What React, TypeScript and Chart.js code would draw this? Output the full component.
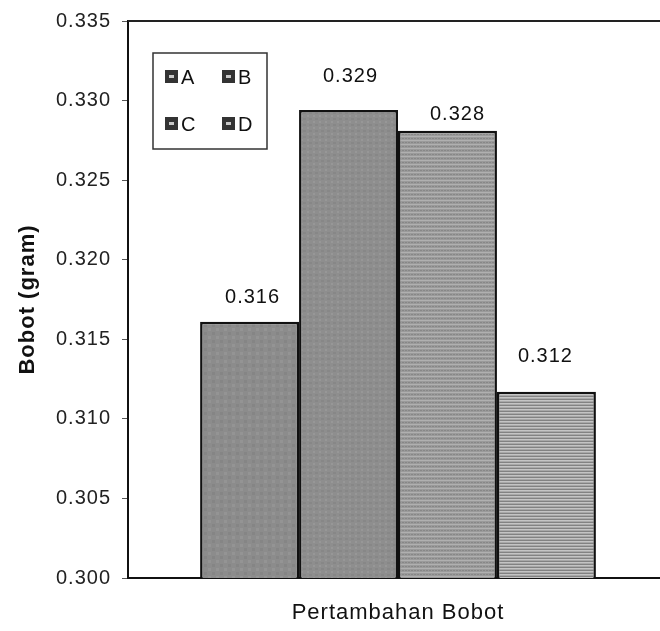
import { useEffect, useRef } from "react";
import { Chart, registerables, Plugin } from "chart.js";

Chart.register(...registerables);

/* ---------------- Data ---------------- */

const categories = ["Pertambahan Bobot"];
const seriesNames = ["A", "B", "C", "D"];
const seriesValues = [0.3161, 0.3294, 0.3281, 0.3117];
const yTicks = [0.3, 0.305, 0.31, 0.315, 0.32, 0.325, 0.33, 0.335];

// label nudges (px) so value labels sit like the original
const labelShift = [
  [3, -24],
  [2, -34],
  [10, -16],
  [-1, -35],
];

const FONT = "'Liberation Sans', Arial, sans-serif";

/* ---------------- Fill patterns ---------------- */

function makePattern(w: number, h: number, draw: (c: CanvasRenderingContext2D) => void) {
  const cv = document.createElement("canvas");
  cv.width = w;
  cv.height = h;
  const c = cv.getContext("2d")!;
  draw(c);
  return c.createPattern(cv, "repeat") as CanvasPattern;
}

function buildFills() {
  const a = makePattern(8, 8, (c) => {
    c.fillStyle = "#8c8c8c";
    c.fillRect(0, 0, 8, 8);
    c.fillStyle = "#949494";
    c.fillRect(0, 0, 3, 3);
    c.fillStyle = "#858585";
    c.fillRect(4, 4, 3, 3);
  });
  const b = makePattern(6, 6, (c) => {
    c.fillStyle = "#8e8e8e";
    c.fillRect(0, 0, 6, 6);
    c.fillStyle = "#979797";
    c.fillRect(1, 1, 2, 2);
    c.fillStyle = "#878787";
    c.fillRect(3, 4, 3, 2);
  });
  const cc = makePattern(6, 4, (c) => {
    c.fillStyle = "#9a9a9a";
    c.fillRect(0, 0, 6, 4);
    c.fillStyle = "#b0b0b0";
    c.fillRect(0, 0, 6, 1);
    c.fillStyle = "#878787";
    c.fillRect(0, 2, 2, 1);
    c.fillRect(3, 2, 2, 1);
  });
  const d = makePattern(4, 3, (c) => {
    c.fillStyle = "#a8a8a8";
    c.fillRect(0, 0, 4, 3);
    c.fillStyle = "#828282";
    c.fillRect(0, 0, 4, 1);
    c.fillStyle = "#c4c4c4";
    c.fillRect(0, 1, 4, 1);
  });
  return [a, b, cc, d];
}

/* ---------------- Plugins ---------------- */

const spacing: Plugin = {
  id: "spacing",
  beforeUpdate: (chart) => {
    (chart.ctx as any).letterSpacing = "1px";
  },
  beforeDraw: (chart) => {
    (chart.ctx as any).letterSpacing = "1px";
  },
};

const frameAndLabels: Plugin = {
  id: "frameAndLabels",
  afterDatasetsDraw: (chart) => {
    const { ctx, chartArea } = chart;
    ctx.save();
    // top border of the plot box
    ctx.strokeStyle = "#222";
    ctx.lineWidth = 2;
    ctx.beginPath();
    ctx.moveTo(chartArea.left, chartArea.top);
    ctx.lineTo(chartArea.right, chartArea.top);
    ctx.stroke();

    // value labels
    ctx.font = `20px ${FONT}`;
    ctx.fillStyle = "#111";
    ctx.textAlign = "center";
    ctx.textBaseline = "middle";
    chart.data.datasets.forEach((ds, i) => {
      const el = chart.getDatasetMeta(i).data[0] as any;
      const v = ds.data[0] as number;
      const [dx, dy] = labelShift[i];
      ctx.fillText(v.toFixed(3), el.x + dx, el.y + dy);
    });

    // legend box (2 x 2)
    const bx = chartArea.left + 25;
    const by = chartArea.top + 32;
    ctx.fillStyle = "#fff";
    ctx.fillRect(bx, by, 114, 96);
    ctx.strokeStyle = "#333";
    ctx.lineWidth = 1.5;
    ctx.strokeRect(bx, by, 114, 96);
    ctx.font = `20px ${FONT}`;
    ctx.textAlign = "left";
    chart.data.datasets.forEach((ds, i) => {
      const col = i % 2;
      const row = Math.floor(i / 2);
      const mx = bx + 12 + col * 57;
      const my = by + 17 + row * 47;
      ctx.fillStyle = "#333";
      ctx.fillRect(mx, my, 13, 13);
      ctx.fillStyle = "#c8c8c8";
      ctx.fillRect(mx + 4, my + 5, 5, 3);
      ctx.fillStyle = "#111";
      ctx.fillText(String(ds.label), mx + 16, my + 8);
    });
    ctx.restore();
  },
};

/* ---------------- Component ---------------- */

const App = () => {
  const canvasRef = useRef<HTMLCanvasElement | null>(null);
  const chartRef = useRef<Chart | null>(null);

  useEffect(() => {
    document.body.style.margin = "0";
    if (!canvasRef.current) return;
    if (chartRef.current) chartRef.current.destroy();

    const fills = buildFills();

    chartRef.current = new Chart(canvasRef.current, {
      type: "bar",
      data: {
        labels: categories,
        datasets: seriesNames.map((name, i) => ({
          label: name,
          data: [seriesValues[i]],
          backgroundColor: fills[i],
          borderColor: "#111",
          borderWidth: 2.5,
          barPercentage: 1,
          categoryPercentage: 0.733,
        })),
      },
      options: {
        responsive: true,
        maintainAspectRatio: false,
        animation: false,
        layout: { padding: { top: 21, right: 0, bottom: 0, left: 0 } },
        plugins: {
          legend: { display: false },
          tooltip: { enabled: false },
        },
        scales: {
          x: {
            grid: { display: false },
            border: { display: true, color: "#111", width: 2 },
            ticks: { display: false },
            title: {
              display: true,
              text: "Pertambahan Bobot",
              color: "#111",
              font: { family: FONT, size: 22 },
              padding: { top: 0, bottom: 5 },
            },
            afterFit: (s: any) => {
              s.height = 53;
            },
          },
          y: {
            min: yTicks[0],
            max: yTicks[yTicks.length - 1],
            afterBuildTicks: (s: any) => {
              s.ticks = yTicks.map((v) => ({ value: v }));
            },
            grid: {
              drawOnChartArea: false,
              tickLength: 6,
              color: "#555",
            },
            border: { display: true, color: "#111", width: 2 },
            ticks: {
              color: "#222",
              padding: 11,
              font: { family: FONT, size: 20 },
              callback: (v) => Number(v).toFixed(3),
            },
            title: {
              display: true,
              text: "Bobot (gram)",
              color: "#111",
              font: { family: FONT, size: 22, weight: "bold" },
              padding: { top: 15, bottom: 0 },
            },
            afterFit: (s: any) => {
              s.width = 128;
              s.paddingTop = 0;
              s.paddingBottom = 0;
            },
          },
        },
      },
      plugins: [spacing, frameAndLabels],
    });

    return () => {
      if (chartRef.current) {
        chartRef.current.destroy();
        chartRef.current = null;
      }
    };
  }, []);

  return (
    <div style={{ width: 660, height: 631, overflow: "hidden", background: "#fff" }}>
      <div style={{ position: "relative", width: 668, height: 631 }}>
        <canvas ref={canvasRef}></canvas>
      </div>
    </div>
  );
};

export default App;
